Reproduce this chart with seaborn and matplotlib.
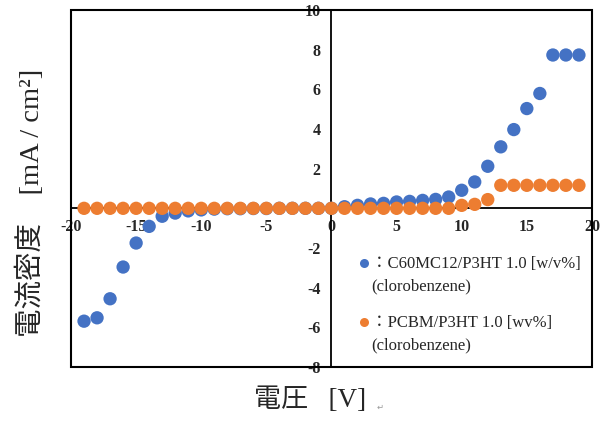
import matplotlib
matplotlib.use("Agg")
import matplotlib.pyplot as plt
from matplotlib.lines import Line2D
from matplotlib.patches import Rectangle
from matplotlib.ticker import MultipleLocator
from matplotlib.legend_handler import HandlerLine2D
import seaborn as sns
import pandas as pd
import numpy as np

voltage = list(range(-19, 20))

c60_current = [-5.69, -5.52, -4.56, -2.96, -1.75, -0.91, -0.40, -0.24, -0.13, -0.08,
               -0.04, -0.02, -0.02, -0.01, -0.01, 0.0, 0.0, 0.0, 0.0,
               0.0, 0.08, 0.15, 0.22, 0.25, 0.32, 0.35, 0.40, 0.45, 0.57,
               0.91, 1.33, 2.12, 3.10, 3.97, 5.03, 5.79, 7.73, 7.73, 7.73]

pcbm_current = [0.0] * 29 + [0.15, 0.20, 0.44, 1.16, 1.16, 1.16, 1.16, 1.16, 1.16, 1.16]

series_labels = ["：C60MC12/P3HT 1.0 [w/v%]\n(clorobenzene)",
                 "：PCBM/P3HT 1.0 [wv%]\n(clorobenzene)"]
colors = ["#4472C4", "#ED7D31"]

df = pd.concat([
    pd.DataFrame({"V": voltage, "J": c60_current, "s": series_labels[0]}),
    pd.DataFrame({"V": voltage, "J": pcbm_current, "s": series_labels[1]}),
])

sns.set_style("white")
plt.rcParams['font.family'] = ['Liberation Serif', 'Noto Sans CJK JP', 'DejaVu Sans']
plt.rcParams['axes.unicode_minus'] = False


# legend marker sits on the first line of a two-line label
class FirstLineHandler(HandlerLine2D):
    def create_artists(self, legend, orig_handle, xdescent, ydescent,
                       width, height, fontsize, trans):
        arts = super().create_artists(legend, orig_handle, xdescent, ydescent,
                                      width, height, fontsize, trans)
        for a in arts:
            a.set_ydata(np.asarray(a.get_ydata()) + 0.72 * fontsize)
        return arts


fig = plt.figure(figsize=(6.09, 4.23), dpi=100)
ax = fig.add_axes([0.1166, 0.1324, 0.8554, 0.844])

sns.scatterplot(data=df, x="V", y="J", hue="s", palette=colors, s=92,
                edgecolor="none", linewidth=0, legend=False, ax=ax,
                zorder=5, clip_on=False)

ax.set_xlim(-20, 20)
ax.set_ylim(-8, 10)

for side in ["top", "right"]:
    ax.spines[side].set_visible(False)
ax.spines["left"].set_position("zero")
ax.spines["bottom"].set_position("zero")
for side in ["left", "bottom"]:
    ax.spines[side].set_linewidth(1.3)
    ax.spines[side].set_color("black")
ax.add_patch(Rectangle((0, 0), 1, 1, transform=ax.transAxes, fill=False,
                       lw=1.5, ec="black", clip_on=False, zorder=6))

ax.xaxis.set_major_locator(MultipleLocator(5))
ax.xaxis.set_minor_locator(MultipleLocator(1))
ax.yaxis.set_major_locator(MultipleLocator(2))
ax.yaxis.set_minor_locator(MultipleLocator(2 / 6))
ax.tick_params(which="both", direction="in", length=3.5, width=1, color="black")
ax.tick_params(axis="both", which="major", pad=8, labelsize=11.5)
for lab in ax.get_xticklabels() + ax.get_yticklabels():
    lab.set_fontweight("bold")
    lab.set_family("Liberation Serif")

ax.set_xlabel("電圧   [V]", fontsize=19.5)
ax.set_ylabel("電流密度　[mA / cm²]", fontsize=20.5)
ax.xaxis.set_label_coords(0.458, -0.058)
ax.yaxis.set_label_coords(-0.05, 0.46)

handles = [Line2D([], [], ls="none", marker="o", ms=6.5, mfc=c, mec="none") for c in colors]
leg = ax.legend(handles, series_labels, loc="upper left", bbox_to_anchor=(0.553, 0.31),
                frameon=False, fontsize=12, handlelength=0.6, handletextpad=0.12,
                labelspacing=1.25, borderpad=0, borderaxespad=0,
                handler_map={Line2D: FirstLineHandler()})
for t in leg.get_texts():
    t.set_linespacing(1.5)

fig.text(377 / 609, 1 - 410 / 423, "↵", fontsize=6, color="#999999", family="DejaVu Sans")

fig.savefig("out.png", dpi=100)
